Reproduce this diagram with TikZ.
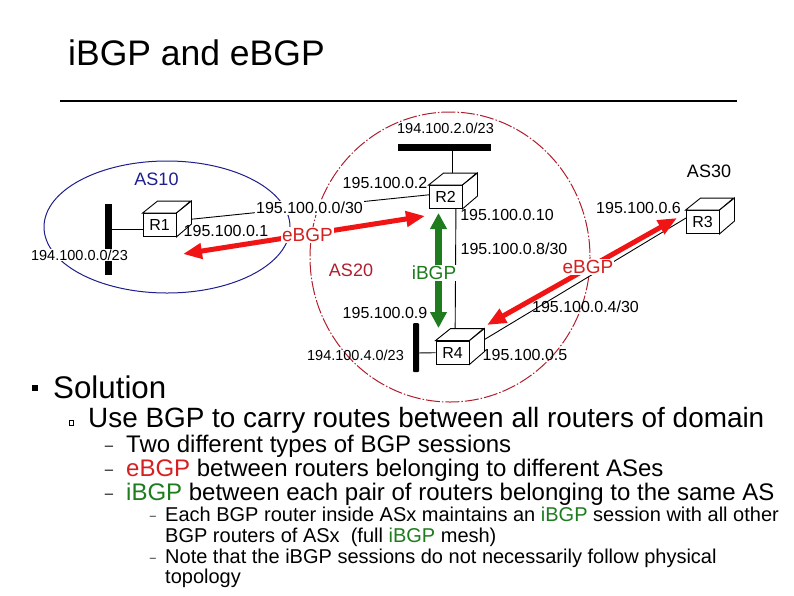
\documentclass[tikz,border=0pt]{standalone}
\usepackage{fontspec}
\setmainfont{Liberation Sans}
\usetikzlibrary{arrows.meta,calc}
\pgfdeclarelayer{bg}
\pgfsetlayers{bg,main}
\definecolor{asblue}{HTML}{1E1E8C}
\definecolor{asred}{HTML}{B01E2D}
\definecolor{ebgpred}{HTML}{D42020}
\definecolor{arrred}{HTML}{F01414}
\definecolor{ibgpgreen}{HTML}{1E7B1E}
\newcommand{\fsz}[1]{\fontsize{#1}{#1}\selectfont}
\newcommand{\cubefaces}[1]{%
  \draw[fill=white,line width=0.9pt] (#1.north west) -- ++(15,-12) -- ++(33,0) -- (#1.north east) -- cycle;
  \draw[fill=white,line width=0.9pt] (#1.north east) -- ++(15,-12) -- ++(0,23) -- (#1.south east) -- cycle;
}
\begin{document}
\begin{tikzpicture}[x=1pt,y=-1pt,
  router/.style={draw,fill=white,minimum width=33pt,minimum height=23pt,inner sep=0pt,font=\fsz{16},line width=0.9pt},
  addr/.style={inner sep=0.5pt,font=\fsz{16}},
  netaddr/.style={inner sep=0.5pt,font=\fsz{14.5}},
  aslabel/.style={inner sep=0.5pt,font=\fsz{18}},
  sess/.style={font=\fsz{19},inner sep=1pt,fill=white},
  link/.style={line width=0.9pt},
  netbar/.style={fill=black,draw=none,inner sep=0pt},
  ebgparrow/.style={arrred,line width=5pt,{Triangle[length=19pt,width=15pt]}-{Triangle[length=19pt,width=15pt]}},
  ibgparrow/.style={ibgpgreen,line width=7pt,{Triangle[length=16pt,width=16pt]}-{Triangle[length=16pt,width=16pt]}},
  txt/.style={anchor=base west,inner sep=0pt},
  dashbul/.style={anchor=base,inner sep=0pt}
]
\useasboundingbox (0,0) rectangle (794,595);

% title
\node[txt,font=\fsz{35.5}] (title) at (68,65) {iBGP and eBGP};
\draw[line width=1.8pt] (60,101) -- (737,101);

% AS regions
\begin{pgfonlayer}{bg}
\draw[asblue,line width=1pt] (167,227) ellipse [x radius=123,y radius=66];
\draw[asred,line width=1pt,dash pattern=on 14pt off 2pt on 1.5pt off 2pt] (450,257) ellipse [x radius=140,y radius=145];
\end{pgfonlayer}

% networks
\node[netbar,minimum width=7pt,minimum height=71pt] (bar1) at (108,239.5) {};
\node[netbar,minimum width=93pt,minimum height=7pt] (bar2) at (444.5,147) {};
\node[netbar,minimum width=6pt,minimum height=49pt,rounded corners=1pt] (bar4) at (416,347.5) {};

% routers
\node[router] (r1) at (159.5,225) {R1};
\cubefaces{r1}
\node[router] (r2) at (445.5,197) {R2};
\cubefaces{r2}
\node[router] (r3) at (702.5,222) {R3};
\cubefaces{r3}
\node[router] (r4) at (452.5,352.5) {R4};
\cubefaces{r4}

% physical links (behind routers)
\begin{pgfonlayer}{bg}
\draw[link] ($(bar1)+(0,-10.5)$) -- ($(r1)+(0,4)$);
\draw[link] ($(bar2)+(7.5,0)$) -- ($(r2)+(6.5,0)$);
\draw[link] ($(bar4)+(0,5.5)$) -- (r4);
\draw[link] ($(r1)+(0,-2.5)$) -- ($(r2)+(0,-3.9)$);
\draw[link] ($(r2)+(10.5,0)$) -- ($(r4)+(2.5,0)$);
\draw[link] ($(r4)+(0,6.3)$) -- ($(r3)+(-16.5,-4)$);
\end{pgfonlayer}

% address labels
\node[netaddr,fill=white,inner sep=1pt] (n1) at (79.5,255) {194.100.0.0/23};
\node[netaddr] (n2) at (445.5,128) {194.100.2.0/23};
\node[netaddr] (n4) at (355.5,355) {194.100.4.0/23};
\node[addr] (a1) at (226,231) {195.100.0.1};
\node[addr,fill=white,inner sep=1pt] (p12) at (309.5,208) {195.100.0.0/30};
\node[addr] (a2) at (385,183) {195.100.0.2};
\node[addr] (a10) at (507,215) {195.100.0.10};
\node[addr] (p24) at (514,249) {195.100.0.8/30};
\node[addr] (a9) at (385,313) {195.100.0.9};
\node[addr] (a5) at (525,355) {195.100.0.5};
\node[addr] (a6) at (638.5,208) {195.100.0.6};
\node[addr] (p34) at (585.5,307) {195.100.0.4/30};

% AS labels
\node[aslabel,text=asblue] (as10) at (156.5,179) {AS10};
\node[aslabel,text=asred] (as20) at (351,270) {AS20};
\node[aslabel] (as30) at (709,171) {AS30};

% BGP sessions
\draw[ebgparrow] ($(r1)+(23.5,29)$) -- ($(r2)+(-20.5,19)$);
\node[sess,text=ebgpred] (e12) at (307.5,235) {eBGP};
\draw[ebgparrow] ($(r4)+(34.5,-27.5)$) -- ($(r3)+(-25.5,-4)$);
\node[sess,text=ebgpred] (e34) at (588,267) {eBGP};
\draw[ibgparrow] ($(r4)+(-14,-24.5)$) -- ($(r2)+(-7,16)$);
\node[sess,text=ibgpgreen] (i24) at (434,273) {iBGP};

% bullets text
\node[fill=black,minimum size=6pt,inner sep=0pt] (b1) at (35,388) {};
\node[txt,font=\fsz{31.3}] (sol) at (53,398) {Solution};
\node[draw,line width=0.6pt,minimum width=4pt,minimum height=5pt,inner sep=0pt] (b2) at (71,423) {};
\node[txt,font=\fsz{27.9}] (use) at (88,427) {Use BGP to carry routes between all routers of domain};

\node[dashbul,font=\fsz{15}] (d1) at (109,450) {–};
\node[txt,font=\fsz{24}] (l3a) at (126,452) {Two different types of BGP sessions};
\node[dashbul,font=\fsz{15}] (d2) at (109,474) {–};
\node[txt,font=\fsz{24}] (l3b) at (126,476) {\textcolor{ebgpred}{eBGP} between routers belonging to different ASes};
\node[dashbul,font=\fsz{15}] (d3) at (109,498) {–};
\node[txt,font=\fsz{24}] (l3c) at (126,500) {\textcolor{ibgpgreen}{iBGP} between each pair of routers belonging to the same AS};

\node[dashbul,font=\fsz{11}] (d4) at (153,519) {–};
\node[txt,font=\fsz{20}] (l4a) at (165,521) {Each BGP router inside ASx maintains an \textcolor{ibgpgreen}{iBGP} session with all other};
\node[txt,font=\fsz{20}] (l4b) at (165,542) {BGP routers of ASx\ \ (full \textcolor{ibgpgreen}{iBGP} mesh)};
\node[dashbul,font=\fsz{11}] (d5) at (153,561) {–};
\node[txt,font=\fsz{20}] (l4c) at (165,563) {Note that the iBGP sessions do not necessarily follow physical};
\node[txt,font=\fsz{20}] (l4d) at (165,583) {topology};
\end{tikzpicture}
\end{document}
